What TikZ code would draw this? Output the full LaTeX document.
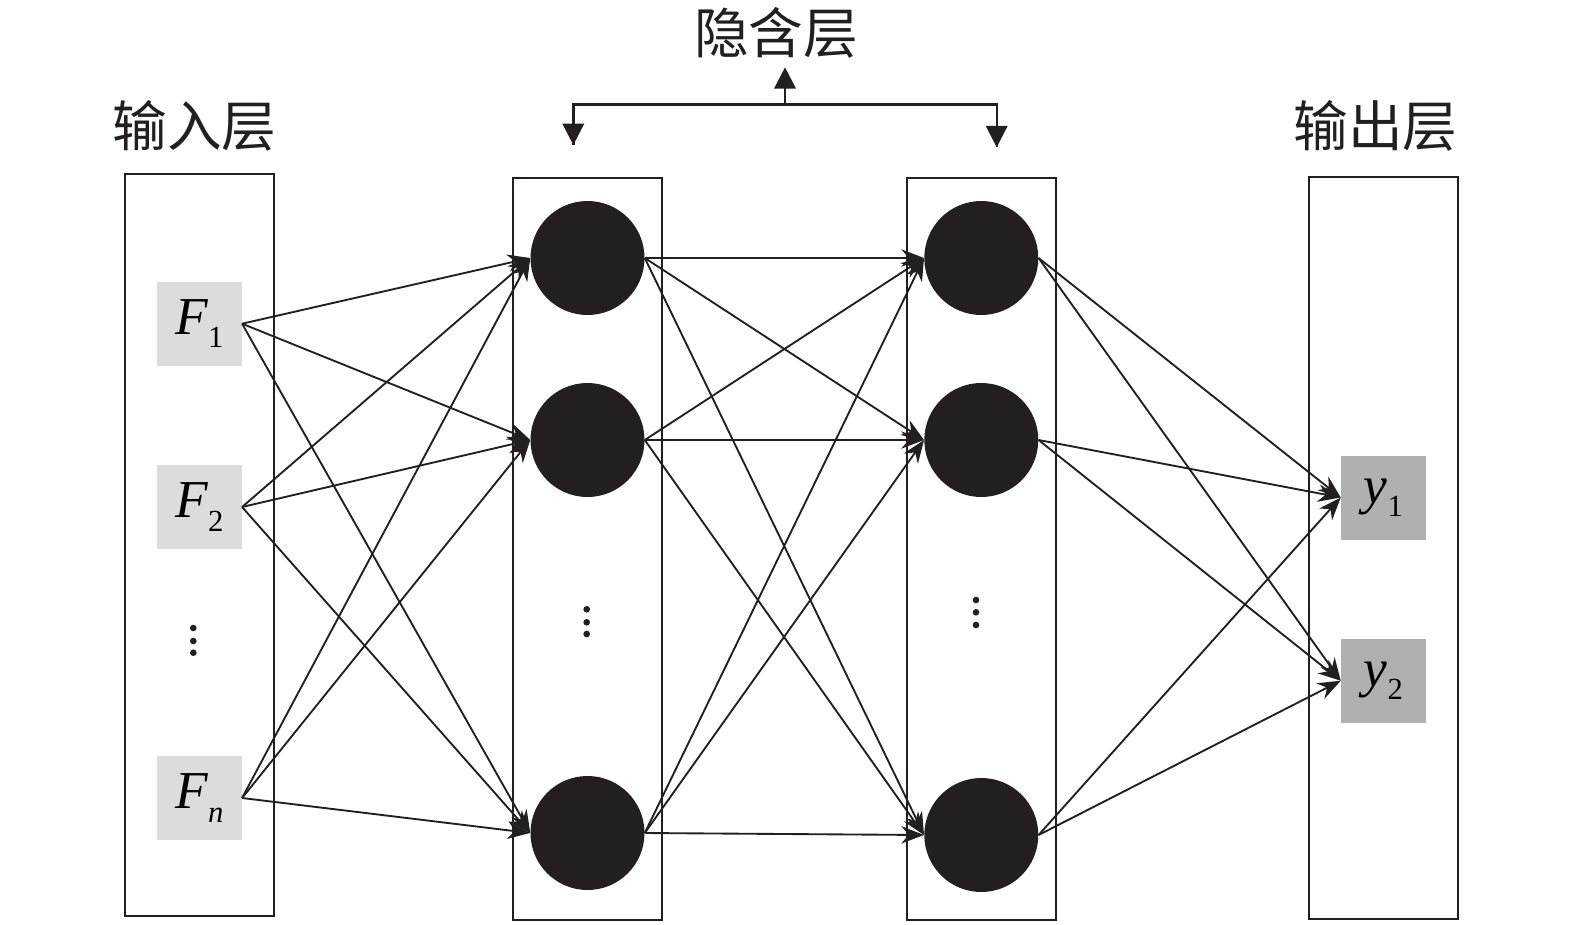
\documentclass[tikz,border=0pt]{standalone}
\usepackage{fontspec}
\setmainfont{Liberation Serif}
\newfontfamily\cjkfont{Noto Sans CJK SC}
\usetikzlibrary{arrows.meta}
\definecolor{ink}{HTML}{231F20}
\definecolor{inbox}{HTML}{DCDCDC}
\definecolor{outbox}{HTML}{B0B0B0}
\newcommand{\sublbl}[2]{\textit{#1}\raisebox{-10pt}{\fontsize{23}{23}\selectfont #2}}
\begin{document}
\begin{tikzpicture}[x=0.75pt,y=-0.75pt,
  layerbox/.style={draw=ink, line width=1.5pt, minimum width=111.75pt, minimum height=556.5pt, inner sep=0pt},
  inputnode/.style={fill=inbox, minimum width=63.75pt, minimum height=63pt, inner sep=0pt, font=\fontsize{40}{40}\selectfont},
  outputnode/.style={fill=outbox, minimum width=63.75pt, minimum height=63pt, inner sep=0pt, font=\fontsize{40}{40}\selectfont},
  neuron/.style={circle, fill=ink, minimum size=85.5pt, inner sep=0pt},
  title/.style={font=\fontsize{41}{41}\selectfont\cjkfont, text=ink, inner sep=0pt},
  conn/.style={draw=ink, line width=1.4pt, -{Stealth[length=17pt,width=13pt]}},
  bracket/.style={draw=ink, line width=1.8pt},
  tipdown/.style={bracket, -{Triangle[length=16pt,width=16pt]}},
  vdot/.style={fill=ink}
]
\useasboundingbox (0,0) rectangle (1575,925);
% layer frames
\node[layerbox] (Lin) at (199.5,545.2) {};
\node[layerbox] (Lh1) at (587.2,548.6) {};
\node[layerbox] (Lh2) at (981.2,548.6) {};
\node[layerbox] (Lout) at (1383.5,548.4) {};
% titles
\node[title] (Tin) at (194.5,125.7) {输入层};
\node[title] (Th) at (776,33.3) {隐含层};
\node[title] (Tout) at (1375.5,125.7) {输出层};
% bracket
\coordinate (bl) at (573.3,104.3);
\coordinate (br) at (996.7,104.3);
\coordinate (bm) at (785,104.3);
\coordinate (blt) at (573.3,145);
\coordinate (brt) at (996.7,147.3);
\coordinate (bmt) at (785,67.3);
\draw[bracket] (blt) -- (bl) -- (br) -- (brt);
\draw[tipdown] (bl) -- (blt);
\draw[tipdown] (br) -- (brt);
\draw[tipdown] (bm) -- (bmt);
% input nodes
\node[inputnode] (F1) at (199.3,323.7) {\sublbl{F}{1}};
\node[inputnode] (F2) at (199.3,507) {\sublbl{F}{2}};
\node[inputnode] (Fn) at (199.3,798) {\sublbl{F}{\textit{n}}};
% hidden nodes
\node[neuron] (h1) at (587.5,258) {};
\node[neuron] (h2) at (587.5,440) {};
\node[neuron] (h3) at (587.5,833) {};
\node[neuron] (g1) at (981.3,258) {};
\node[neuron] (g2) at (981.3,440) {};
\node[neuron] (g3) at (981.3,835) {};
% output nodes
\node[outputnode] (y1) at (1383.5,497.5) {\sublbl{y}{1}};
\node[outputnode] (y2) at (1383.5,680.7) {\sublbl{y}{2}};
% ellipsis dots
\foreach \yy in {628,641,652.7} \fill[vdot] (193.3,\yy) circle[radius=2.5pt];
\foreach \yy in {609.3,622.3,634} \fill[vdot] (586.7,\yy) circle[radius=2.5pt];
\foreach \yy in {600,612.3,625} \fill[vdot] (976,\yy) circle[radius=2.5pt];
% connections
\foreach \s in {F1,F2,Fn}
  \foreach \t in {h1,h2,h3}
    \draw[conn] (\s.east) -- (\t.west);
\foreach \s in {h1,h2,h3}
  \foreach \t in {g1,g2,g3}
    \draw[conn] (\s.east) -- (\t.west);
\foreach \s in {g1,g2,g3}
  \foreach \t in {y1,y2}
    \draw[conn] (\s.east) -- (\t.west);
\end{tikzpicture}
\end{document}
